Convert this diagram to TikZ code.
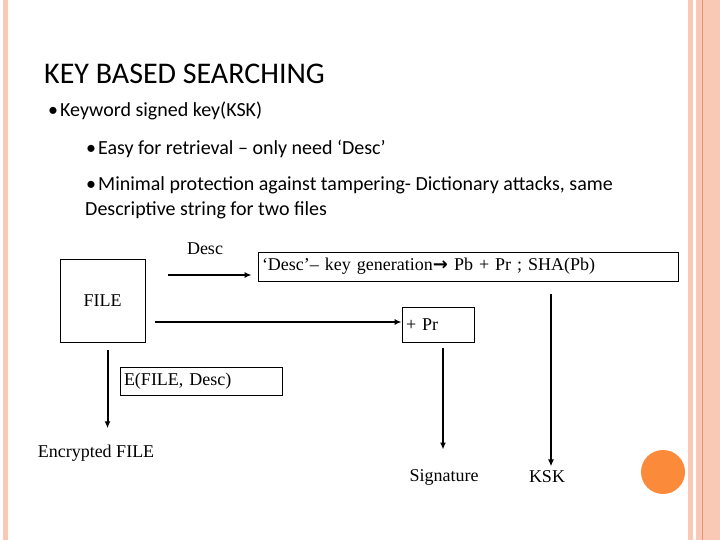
\documentclass[tikz,border=0pt]{standalone}
\usepackage{fontspec}
\setmainfont{Liberation Serif}
\newfontfamily\slidefont{Carlito}
\newfontfamily\arrowfont{DejaVu Sans}
\usetikzlibrary{positioning,arrows.meta}
\definecolor{barpink}{HTML}{F9C9B6}
\definecolor{barline}{HTML}{E59572}
\definecolor{dotorange}{HTML}{FB8A3A}

\begin{document}
\begin{tikzpicture}[x=1pt, y=-1pt, font=\fontsize{18}{20}\selectfont,
        box/.style = {draw, line width=0.8pt, inner sep=4pt, align=left},
        flow/.style = {line width=2pt, -{Latex[length=7pt,width=6pt]}},
        slide/.style = {anchor=base west, inner sep=0pt, font=\slidefont\fontsize{20}{22}\selectfont}]

        \useasboundingbox (0,0) rectangle (720,540);
        % side bars and dot
        \fill[barpink] (3,0) rectangle (8,540);
        \fill[barpink] (688,0) rectangle (693,540);
        \fill[barpink] (696,0) rectangle (720,540);
        \draw[barline, line width=0.8pt] (702,0) -- (702,540);
        \fill[dotorange] (663,472) circle (22);

        % slide text
        \node[slide, font=\slidefont\fontsize{30}{32}\selectfont] (title) at (44,84) {KEY BASED SEARCHING};
        \node[slide] (ksktext) at (48,117) {\textbullet\hspace{2pt}Keyword signed key(KSK)};
        \node[slide] (easy) at (86,155) {\textbullet\hspace{2pt}Easy for retrieval – only need ‘Desc’};
        \node[slide] (minimal) at (86,191) {\textbullet\hspace{2pt}Minimal protection against tampering- Dictionary attacks, same};
        \node[slide] (descr) at (85,215) {Descriptive string for two files};

        % diagram
        \node[box, minimum width=85pt, minimum height=83pt, align=center] (file) at (102.5,300.5) {FILE};
        \node (desc) at (205,249) {Desc};
        \node[box, text width=412pt, minimum height=29pt] (keygen) at (468,266.5) {‘Desc’– key generation{\arrowfont\bfseries\fontsize{18}{18}\selectfont →} Pb + Pr ; SHA(Pb)};
        \node[box, text width=64pt, minimum height=35pt] (pr) at (438,324.5) {+ Pr};
        \node[box, text width=154pt, minimum height=28pt] (efile) at (201,381) {E(FILE, Desc)};
        \node (enc) at (96,453) {Encrypted FILE};
        \node (sig) at (444,477) {Signature};
        \node (ksk) at (547,477) {KSK};

        \coordinate (descin) at (168,275);
        \coordinate (fileout) at ([shift={(10pt,-21.5pt)}]file.east);
        \coordinate (filedown) at ([shift={(5pt,-8pt)}]file.south);
        \coordinate (prdown) at ([shift={(5pt,-6pt)}]pr.south);

        \draw[flow, shorten >=6pt] (descin) -- (descin -| keygen.west);
        \draw[flow] (fileout) -- (fileout -| pr.west);
        \draw[flow, shorten >=13pt] (filedown) -- (filedown |- enc.north);
        \draw[flow, shorten >=16pt] (prdown) -- (prdown |- sig.north);
        \draw[flow, shorten <=13pt, shorten >=1pt] ([xshift=83pt]keygen.south) -- ([xshift=83pt]keygen.south |- ksk.north);

\end{tikzpicture}
\end{document}
